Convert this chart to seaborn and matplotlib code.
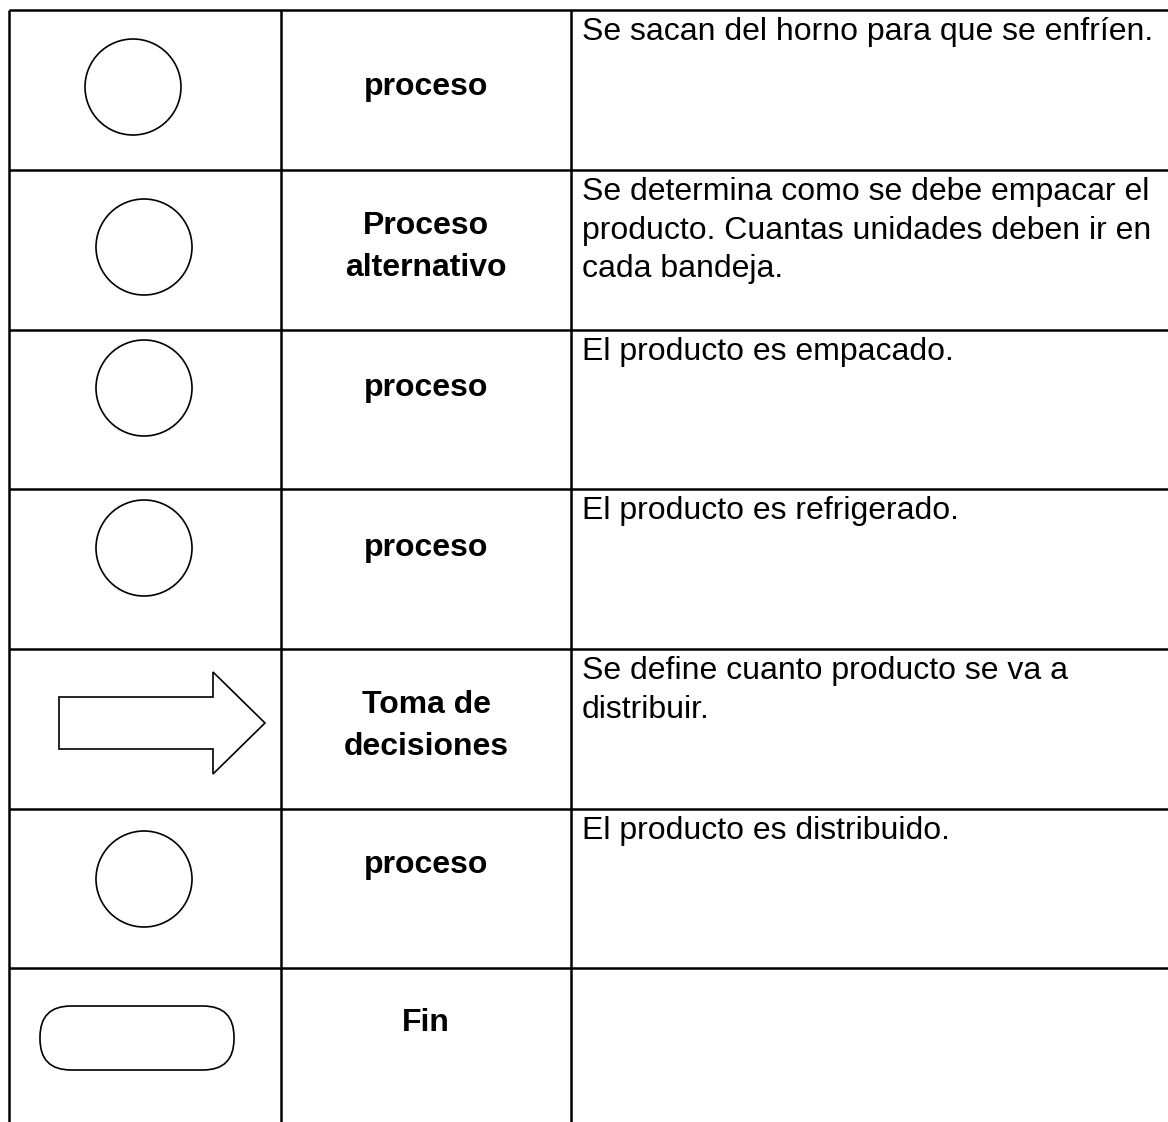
import matplotlib
matplotlib.use("Agg")
from matplotlib import pyplot as plt
from matplotlib.patches import Circle, FancyBboxPatch, Polygon
import seaborn as sns

# table content, one entry per row
shapes = ["circle", "circle", "circle", "circle", "arrow", "circle", "terminal"]
labels = ["proceso", "Proceso\nalternativo", "proceso", "proceso",
          "Toma de\ndecisiones", "proceso", "Fin"]
descriptions = [
    "Se sacan del horno para que se enfríen.",
    "Se determina como se debe empacar el\nproducto. Cuantas unidades deben ir en\ncada bandeja.",
    "El producto es empacado.",
    "El producto es refrigerado.",
    "Se define cuanto producto se va a\ndistribuir.",
    "El producto es distribuido.",
    "",
]

# layout (pixels)
W, H = 1168, 1122
row_tops = [10, 170, 330, 489, 649, 809, 968]
col_x = [9, 281, 571]
shape_cx = [133, 144, 144, 144, 162, 144, 137]
shape_cy = [87, 247, 388, 548, 723, 879, 1038]
label_cy = [87, 247, 388, 548, 726, 865, 1023]

sns.set_theme(style="white")
plt.rcParams['font.family'] = ['Liberation Sans', 'DejaVu Sans']
plt.rcParams['text.color'] = 'black'

fig = plt.figure(figsize=(W / 100, H / 100), dpi=100)
ax = fig.add_axes([0, 0, 1, 1])
ax.set_xlim(0, W)
ax.set_ylim(H, 0)
ax.axis("off")

lw = 1.8
# grid lines
ax.hlines(row_tops, col_x[0], W, color="black", lw=lw)
ax.vlines(col_x, row_tops[0], H, color="black", lw=lw)

for i, shp in enumerate(shapes):
    cx, cy = shape_cx[i], shape_cy[i]
    if shp == "circle":
        ax.add_patch(Circle((cx, cy), 48, fill=False, ec="black", lw=1.2))
    elif shp == "arrow":
        pts = [(cx - 103, cy - 26), (cx + 51, cy - 26), (cx + 51, cy - 51),
               (cx + 103, cy), (cx + 51, cy + 51), (cx + 51, cy + 26),
               (cx - 103, cy + 26)]
        ax.add_patch(Polygon(pts, closed=True, fill=False, ec="black", lw=1.2))
    else:
        ax.add_patch(FancyBboxPatch((cx - 97, cy - 32), 194, 64,
                                    boxstyle="round,pad=0,rounding_size=31",
                                    fill=False, ec="black", lw=1.2))

    ax.text((col_x[1] + col_x[2]) / 2, label_cy[i], labels[i],
            ha="center", va="center", fontsize=23, fontweight="bold",
            color="black", linespacing=1.48)
    if descriptions[i]:
        ax.text(col_x[2] + 11, row_tops[i] + 7, descriptions[i],
                ha="left", va="top", fontsize=23, color="black",
                linespacing=1.37)

fig.savefig("out.png", dpi=100)
